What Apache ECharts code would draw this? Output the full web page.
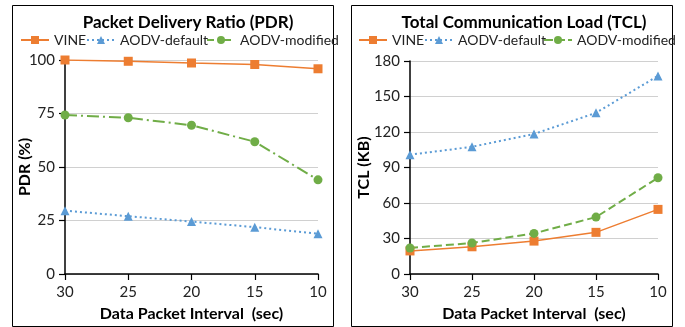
<!DOCTYPE html>
<html><head><meta charset="utf-8">
<script src="https://cdn.jsdelivr.net/npm/echarts@6/dist/echarts.min.js"></script>
<style>html,body{margin:0;padding:0;background:#fff}#c{width:685px;height:327px}</style>
</head><body><div id="c"></div>
<script>
const categories = ['30','25','20','15','10'];
const pdrVine = [100, 99.4, 98.6, 97.9, 95.9];
const pdrAodvDefault = [29.6, 27, 24.5, 21.9, 18.8];
const pdrAodvModified = [74.3, 73, 69.5, 61.8, 44];
const tclVine = [19.5, 23, 27.8, 35.2, 54.6];
const tclAodvDefault = [100.8, 107.5, 118.3, 136.2, 167.4];
const tclAodvModified = [22, 26.2, 34.3, 48.1, 81.3];
const pdrTicks = [0, 25, 50, 75, 100];
const tclTicks = [0, 30, 60, 90, 120, 150, 180];
const seriesNames = ['VINE', 'AODV-default', 'AODV-modified'];

const ORANGE = '#ED7D31', BLUE = '#5B9BD5', GREEN = '#70AD47';
const FONT = 'Lato';
const chart = echarts.init(document.getElementById('c'), null, {renderer: 'canvas'});

function xAxis(gi) {
  return {
    type: 'category', gridIndex: gi, data: categories, boundaryGap: false,
    axisLine: {lineStyle: {color: '#000', width: 1.5}},
    axisTick: {show: true, length: 6, lineStyle: {color: '#000', width: 1.2}},
    axisLabel: {color: '#222', fontSize: 15, fontFamily: FONT, margin: 11},
    name: 'Data Packet Interval  (sec)', nameLocation: 'middle', nameGap: 32,
    nameMoveOverlap: false,
    nameTextStyle: {color: '#000', fontSize: 16, fontWeight: 'bold', fontFamily: FONT},
    splitLine: {show: false}
  };
}
function yAxis(gi, ticks, name, gap) {
  return {
    type: 'value', gridIndex: gi, min: ticks[0], max: ticks[ticks.length - 1],
    interval: ticks[1] - ticks[0],
    axisLine: {show: true, lineStyle: {color: '#000', width: 1.5}},
    axisTick: {show: true, length: 6, lineStyle: {color: '#000', width: 1.2}},
    axisLabel: {color: '#222', fontSize: 15, fontFamily: FONT, margin: 10},
    splitLine: {show: true, lineStyle: {color: '#d0d0d0', width: 1}},
    name: name, nameLocation: 'middle', nameGap: gap, nameMoveOverlap: false,
    nameTextStyle: {color: '#000', fontSize: 16, fontWeight: 'bold', fontFamily: FONT}
  };
}
function line(name, data, gi, color, symbol, type, width) {
  return {
    name: name, type: 'line', xAxisIndex: gi, yAxisIndex: gi, data: data,
    symbol: symbol, symbolSize: 9,
    itemStyle: {color: color}, lineStyle: {color: color, width: width, type: type},
    animation: false
  };
}
function legendItem(name, left, lineType) {
  const d = {name: name};
  if (lineType) d.lineStyle = {type: lineType};
  return {
    left: left, top: 33, itemWidth: 28, itemHeight: 10, itemGap: 0, padding: 0,
    textStyle: {color: '#222', fontSize: 14, fontFamily: FONT},
    data: [d]
  };
}

chart.setOption({
  backgroundColor: '#fff',
  animation: false,
  title: [
    {text: 'Packet Delivery Ratio (PDR)', left: 183, top: 9, textAlign: 'center',
     textStyle: {fontSize: 17, fontWeight: 'bold', color: '#000', fontFamily: FONT}},
    {text: 'Total Communication Load (TCL)', left: 519, top: 9, textAlign: 'center',
     textStyle: {fontSize: 17, fontWeight: 'bold', color: '#000', fontFamily: FONT}}
  ],
  legend: [
    legendItem(seriesNames[0], 20), legendItem(seriesNames[1], 86), legendItem(seriesNames[2], 206, [7, 4, 2, 4]),
    legendItem(seriesNames[0], 358), legendItem(seriesNames[1], 424), legendItem(seriesNames[2], 543, [9, 3])
  ],
  grid: [
    {left: 65, right: 685 - 318, top: 60, bottom: 327 - 278},
    {left: 410, right: 685 - 658, top: 61, bottom: 327 - 276}
  ],
  xAxis: [xAxis(0), xAxis(1)],
  yAxis: [yAxis(0, pdrTicks, 'PDR (%)', 32), yAxis(1, tclTicks, 'TCL (KB)', 38)],
  series: [
    line(seriesNames[0], pdrVine, 0, ORANGE, 'rect', 'solid', 1.5),
    line(seriesNames[1], pdrAodvDefault, 0, BLUE, 'triangle', [2, 3], 2),
    line(seriesNames[2], pdrAodvModified, 0, GREEN, 'circle', [12, 4, 2, 4], 2),
    line(seriesNames[0], tclVine, 1, ORANGE, 'rect', 'solid', 1.5),
    line(seriesNames[1], tclAodvDefault, 1, BLUE, 'triangle', [2, 3], 2),
    line(seriesNames[2], tclAodvModified, 1, GREEN, 'circle', [8, 4], 2)
  ],
  graphic: [
    {type: 'rect', shape: {x: 12.5, y: 5.5, width: 321, height: 321}, style: {fill: 'none', stroke: '#000', lineWidth: 1}, silent: true},
    {type: 'rect', shape: {x: 351.5, y: 5.5, width: 321, height: 321}, style: {fill: 'none', stroke: '#000', lineWidth: 1}, silent: true}
  ]
});
</script></body></html>
